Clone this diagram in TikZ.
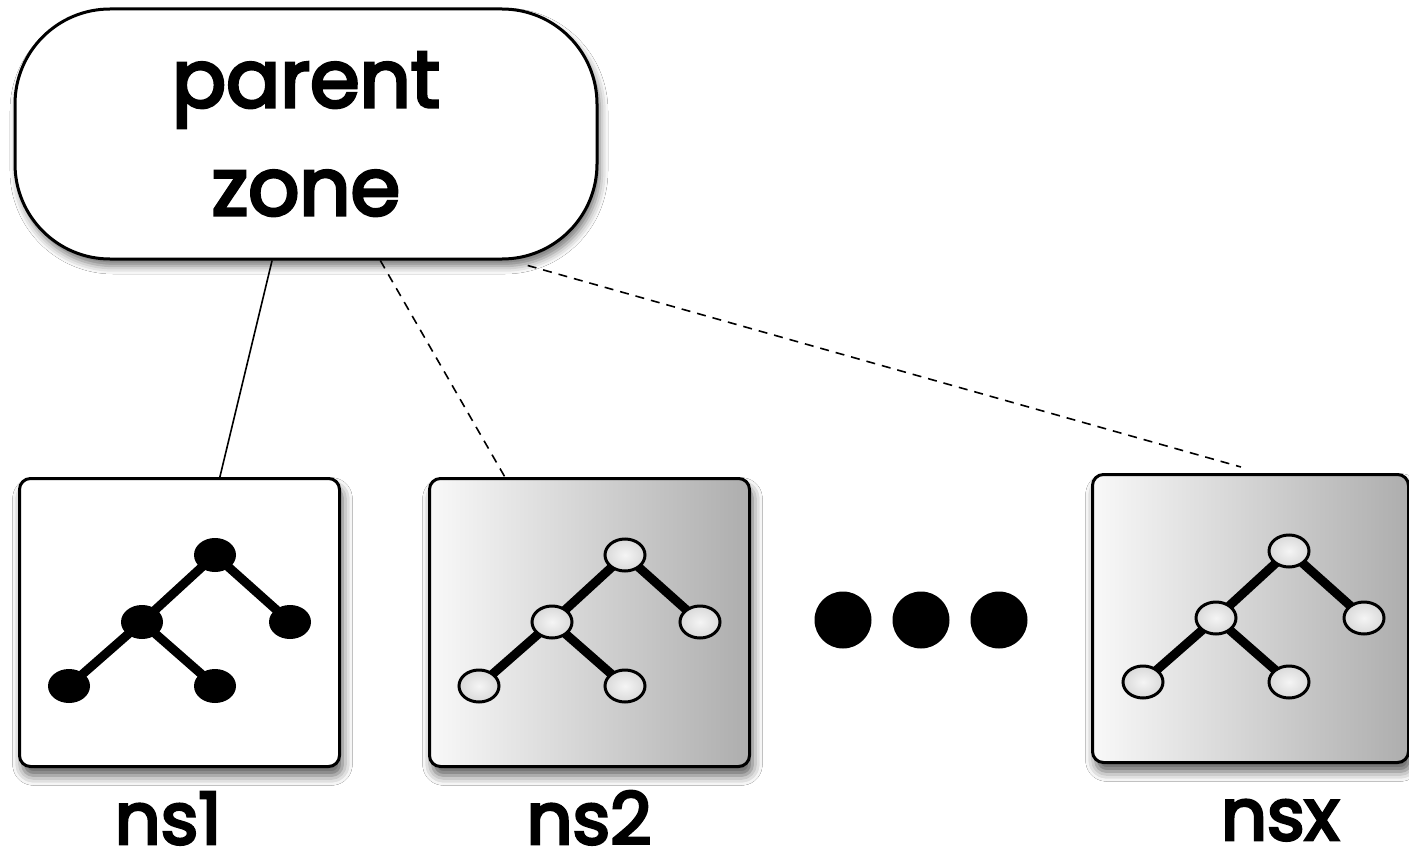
\documentclass[tikz,border=0pt]{standalone}
\usepackage{fontspec}
\newfontfamily\chalk{Poppins}[FakeBold=4]
\usetikzlibrary{shadows.blur,calc,shapes.geometric}
\tikzset{
  zone/.style={draw=black,line width=3pt,fill=white,rounded corners=95pt,
    minimum width=582pt,minimum height=250pt,inner sep=0pt,
    blur shadow={shadow xshift=3pt,shadow yshift=-7pt,shadow blur radius=8pt,shadow opacity=55}},
  nsbox/.style={draw=black,line width=3pt,rounded corners=11pt,anchor=north west,
    minimum width=320pt,minimum height=288pt,inner sep=0pt,
    blur shadow={shadow xshift=3pt,shadow yshift=-9pt,shadow blur radius=10pt,shadow opacity=65}},
  plainbox/.style={nsbox,fill=white},
  shadedbox/.style={nsbox,left color=gray!5,right color=gray!64},
  dotclosed/.style={ellipse,fill=black,minimum width=42pt,minimum height=34pt,inner sep=0pt},
  dotopen/.style={ellipse,draw=black,line width=3pt,inner color=gray!8,outer color=gray!30,
    minimum width=40pt,minimum height=32pt,inner sep=0pt},
  treeedge/.style={line width=9pt,black},
  link/.style={line width=1.6pt,black},
  dashlink/.style={link,dash pattern=on 9pt off 7pt},
  lbl/.style={font=\chalk\fontsize{72}{76}\selectfont,anchor=base,inner sep=0pt},
  bigdot/.style={circle,fill=black,minimum size=57pt,inner sep=0pt},
  pics/tree/.style={code={
    \coordinate (-pa) at (197,78);
    \coordinate (-pb) at (124,145);
    \coordinate (-pc) at (272,145);
    \coordinate (-pd) at (51,209);
    \coordinate (-pe) at (197,209);
    \draw[treeedge] (-pd) -- (-pb) -- (-pa) -- (-pc);
    \draw[treeedge] (-pb) -- (-pe);
    \node[tn] (-na) at (-pa) {};
    \node[tn] (-nb) at (-pb) {};
    \node[tn] (-nc) at (-pc) {};
    \node[tn] (-nd) at (-pd) {};
    \node[tn] (-ne) at (-pe) {};
  }}
}
\begin{document}
\begin{tikzpicture}[x=1pt,y=-1pt]
\useasboundingbox (0,0) rectangle (1409,859);
\fill[white] (0,0) rectangle (1409,859);

\node[zone,align=center,font=\chalk\fontsize{80}{108}\selectfont] (parent) at (306,134) {parent\\zone};

\node[plainbox] (b1) at (18,477) {};
\node[shadedbox] (b2) at (428,477) {};
\node[shadedbox,minimum width=316pt] (bx) at (1091,473) {};

\begin{scope}[tn/.style=dotclosed]
  \pic (t1) at (18,477) {tree};
\end{scope}
\begin{scope}[tn/.style=dotopen]
  \pic (t2) at (428,477) {tree};
  \pic (tx) at (1092,473) {tree};
\end{scope}

\node[bigdot] (d1) at (843,620) {};
\node[bigdot] (d2) at (921,620) {};
\node[bigdot] (d3) at (999,620) {};

\draw[link] ($(parent.south west)!0.442!(parent.south east)$) -- ($(b1.north west)!0.625!(b1.north east)$);
\draw[dashlink] ($(parent.south west)!0.627!(parent.south east)$) -- ($(b2.north west)!0.238!(b2.north east)$);
\draw[dashlink] ($(parent.south west)!0.879!(parent.south east)+(0,5)$) -- ($(bx.north west)!0.47!(bx.north east)+(0,-6)$);

\node[lbl] (l1) at (168,844) {ns1};
\node[lbl] (l2) at (589,844) {ns2};
\node[lbl] (lx) at (1280,840) {nsx};
\end{tikzpicture}
\end{document}
